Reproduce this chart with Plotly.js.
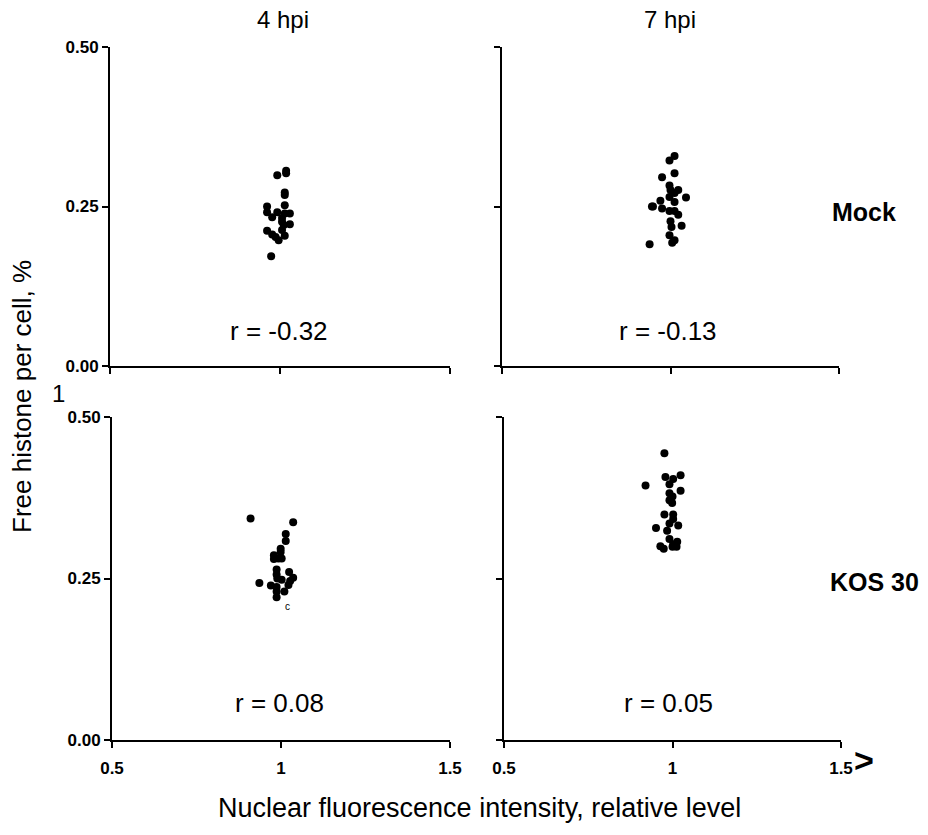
<!DOCTYPE html>
<html>
<head>
<meta charset="utf-8">
<script src="https://cdn.plot.ly/plotly-3.0.1.min.js"></script>
<style>html,body{margin:0;padding:0;background:#fff;}#chart{width:928px;height:835px;}</style>
</head>
<body>
<div id="chart"></div>
<script>
// Relative nuclear fluorescence (x) vs. free histone per cell (y), per condition
const mock4x = [1.018,1.018,0.992,1.014,1.014,0.962,1.014,0.962,0.992,0.977,1.014,1.029,1.006,1.029,1.011,1.006,0.962,0.977,0.987,0.996,1.014,0.974,1.006];
const mock4y = [0.306,0.302,0.299,0.272,0.268,0.250,0.252,0.241,0.241,0.233,0.239,0.239,0.226,0.222,0.221,0.213,0.212,0.206,0.202,0.197,0.204,0.172,0.232];

const mock7x = [1.012,0.997,0.975,1.012,0.997,1.000,1.023,1.012,0.997,1.046,0.970,1.012,0.945,0.975,0.997,1.012,1.023,1.000,1.033,1.003,0.997,1.012,1.005,0.938,0.948];
const mock7y = [0.329,0.322,0.296,0.302,0.283,0.276,0.276,0.271,0.265,0.264,0.259,0.257,0.250,0.247,0.243,0.243,0.237,0.227,0.220,0.218,0.205,0.197,0.193,0.191,0.250];

const kos4x = [0.910,1.036,1.014,1.014,0.999,0.999,0.979,0.979,0.992,1.002,0.987,1.024,0.987,0.989,1.002,1.036,1.027,0.936,1.022,0.970,0.987,0.987,1.010,0.987];
const kos4y = [0.343,0.337,0.319,0.308,0.296,0.291,0.286,0.280,0.281,0.281,0.264,0.260,0.256,0.250,0.248,0.251,0.246,0.243,0.240,0.239,0.237,0.230,0.230,0.221];

const kos7x = [0.976,0.979,1.002,1.024,0.920,0.991,1.024,0.991,1.000,0.991,0.999,0.976,1.002,1.002,0.991,1.017,0.951,0.984,0.991,1.014,0.964,0.974,1.000,1.012,1.002];
const kos7y = [0.444,0.407,0.404,0.410,0.394,0.396,0.386,0.382,0.377,0.371,0.367,0.349,0.349,0.342,0.335,0.332,0.328,0.324,0.311,0.307,0.300,0.296,0.299,0.299,0.303];

const columnTitles = ['4 hpi', '7 hpi'];
const rowTitles = ['Mock', 'KOS 30'];
const rValues = ['r = -0.32', 'r = -0.13', 'r = 0.08', 'r = 0.05'];
const xTicks = [0.5, 1, 1.5];
const xTickText = ['0.5', '1', '1.5'];
const yTicks = [0, 0.25, 0.5];
const yTickText = ['0.00', '0.25', '0.50'];

const W = 928, H = 835;
const px = v => v / W;
const py = v => 1 - v / H;

const FONT = 'Liberation Sans, Arial, sans-serif';

function trace(x, y, xa, ya) {
  return {
    x: x, y: y, xaxis: xa, yaxis: ya, type: 'scatter', mode: 'markers',
    marker: {color: '#000', size: 8, line: {width: 0}},
    hoverinfo: 'skip', showlegend: false, cliponaxis: false
  };
}

const data = [
  trace(mock4x, mock4y, 'x', 'y'),
  trace(mock7x, mock7y, 'x2', 'y2'),
  trace(kos4x, kos4y, 'x3', 'y3'),
  trace(kos7x, kos7y, 'x4', 'y4')
];

function xaxis(domain, anchor, labels) {
  return {
    domain: domain, anchor: anchor, range: [0.5, 1.5],
    showgrid: false, zeroline: false, showline: true, linecolor: '#000', linewidth: 2,
    ticks: 'outside', ticklen: 6, tickwidth: 2, tickcolor: '#000',
    tickvals: xTicks, ticktext: xTickText, showticklabels: labels,
    ticklabelstandoff: 6,
    tickfont: {family: FONT, size: 17, color: '#000', weight: 'bold'}
  };
}
function yaxis(domain, anchor, labels) {
  return {
    domain: domain, anchor: anchor, range: [0, 0.5],
    showgrid: false, zeroline: false, showline: true, linecolor: '#000', linewidth: 2,
    ticks: 'outside', ticklen: 6, tickwidth: 2, tickcolor: '#000',
    tickvals: yTicks, ticktext: yTickText, showticklabels: labels,
    tickfont: {family: FONT, size: 17, color: '#000', weight: 'bold'}
  };
}

function ann(text, x, y, size, bold, extra) {
  return Object.assign({
    text: text, x: px(x), y: py(y), xref: 'paper', yref: 'paper',
    showarrow: false, xanchor: 'center', yanchor: 'middle',
    font: {family: FONT, size: size, color: '#000', weight: bold ? 'bold' : 'normal'}
  }, extra || {});
}

const layout = {
  width: W, height: H,
  margin: {l: 0, r: 0, t: 0, b: 0},
  paper_bgcolor: '#fff', plot_bgcolor: 'rgba(0,0,0,0)',
  showlegend: false,
  xaxis:  xaxis([px(110), px(450)], 'y', false),
  yaxis:  yaxis([py(366), py(47)], 'x', true),
  xaxis2: xaxis([px(502), px(839)], 'y2', false),
  yaxis2: yaxis([py(366), py(47)], 'x2', false),
  xaxis3: xaxis([px(112), px(450)], 'y3', true),
  yaxis3: yaxis([py(740), py(417)], 'x3', true),
  xaxis4: xaxis([px(504), px(841)], 'y4', true),
  yaxis4: yaxis([py(740), py(417)], 'x4', false),
  annotations: [
    ann(columnTitles[0], 283, 20, 24, false),
    ann(columnTitles[1], 670, 20, 24, false),
    ann(rowTitles[0], 864, 212, 25, true),
    ann(rowTitles[1], 874, 582, 25, true),
    ann(rValues[0], 279, 331, 26, false),
    ann(rValues[1], 668, 331, 26, false),
    ann(rValues[2], 279, 703, 26, false),
    ann(rValues[3], 668, 703, 26, false),
    ann('Free histone per cell, %', 22, 397, 26, false, {textangle: -90}),
    ann('Nuclear fluorescence intensity, relative level', 479, 808, 27, false),
    ann('1', 59, 393, 24, false),
    ann('c', 287, 606, 10, false),
    ann('>', 864, 760, 34, true)
  ]
};

Plotly.newPlot('chart', data, layout, {staticPlot: true, displayModeBar: false});
</script>
</body>
</html>
